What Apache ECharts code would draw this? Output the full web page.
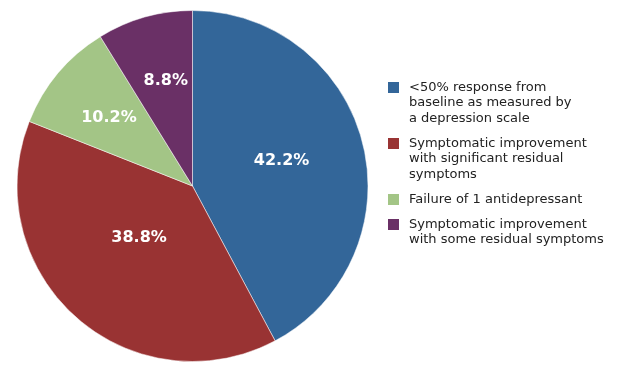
<!DOCTYPE html>
<html><head><meta charset="utf-8">
<script src="https://cdn.jsdelivr.net/npm/echarts@6/dist/echarts.min.js"></script>
<style>html,body{margin:0;padding:0;background:#fff}#c{width:632px;height:370px}</style>
</head><body><div id="c"></div>
<script>
const categories = [
  '<50% response from\nbaseline as measured by\na depression scale',
  'Symptomatic improvement\nwith significant residual\nsymptoms',
  'Failure of 1 antidepressant',
  'Symptomatic improvement\nwith some residual symptoms'
];
const values = [42.2, 38.8, 10.2, 8.8];
const colors = ['#336699', '#993333', '#a3c586', '#6a3066'];

const labelOffsets = [[1, -3], [7, -16], [-14, -10], [-2, -18]];

const chart = echarts.init(document.getElementById('c'));
const rich = { sp: { width: 10 }, ind: { width: 21 }, t: { fontSize: 13, lineHeight: 15.5, color: '#222', fontFamily: 'DejaVu Sans' } };
colors.forEach((c, i) => { rich['sq' + i] = { width: 11, height: 11, backgroundColor: c }; });

chart.setOption({
  animation: false,
  color: colors,
  legend: {
    orient: 'vertical',
    left: 378,
    top: 76,
    icon: 'none',
    itemWidth: 0,
    itemHeight: 11,
    itemGap: 12,
    selectedMode: false,
    formatter: function (name) {
      const i = categories.indexOf(name);
      return name.split('\n').map((l, k) => k === 0 ? '{sq' + i + '|}{sp|}{t|' + l + '}' : '{ind|}{t|' + l + '}').join('\n');
    },
    textStyle: { rich: rich, fontFamily: 'DejaVu Sans', fontSize: 13 },
    data: categories
  },
  series: [{
    type: 'pie',
    center: [192.5, 186],
    radius: 175.5,
    startAngle: 90,
    clockwise: true,
    avoidLabelOverlap: false,
    itemStyle: { borderColor: 'rgba(255,255,255,0.5)', borderWidth: 1 },
    label: {
      position: 'inside',
      formatter: p => p.value.toFixed(1) + '%',
      color: '#fff',
      fontWeight: 'bold',
      fontSize: 16,
      fontFamily: 'DejaVu Sans'
    },
    emphasis: { disabled: true },
    data: categories.map((n, i) => ({ name: n, value: values[i], label: { offset: labelOffsets[i] } }))
  }]
});
</script></body></html>
